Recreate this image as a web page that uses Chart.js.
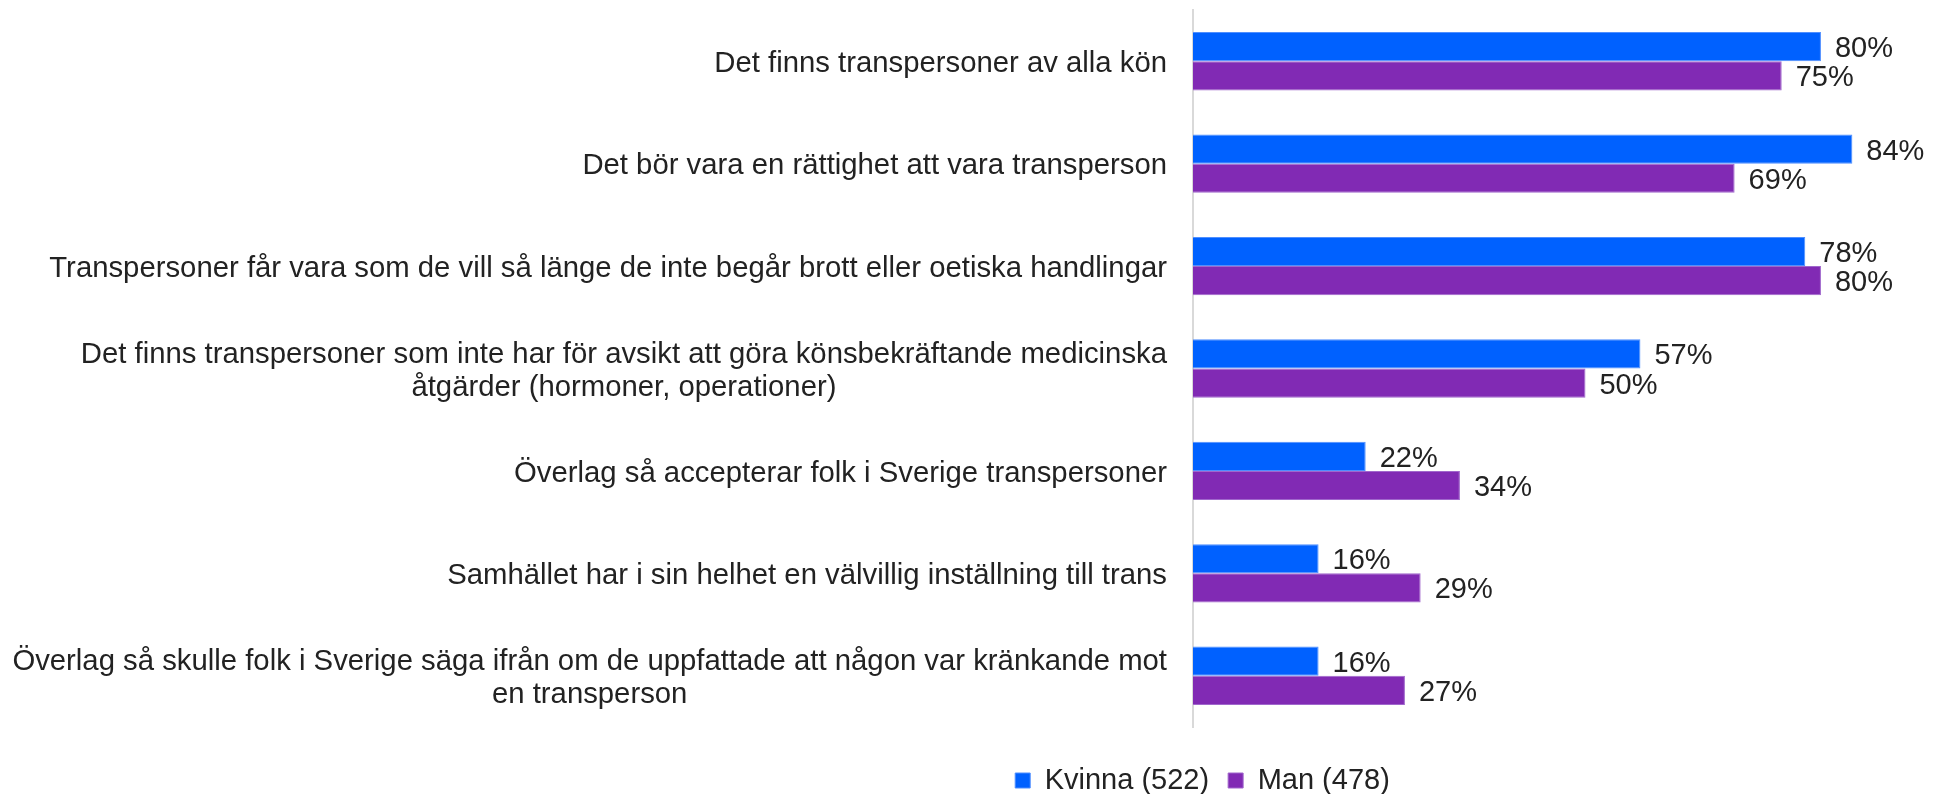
<!DOCTYPE html>
<html>
<head>
<meta charset="utf-8">
<script src="https://cdn.jsdelivr.net/npm/chart.js@4.4.1/dist/chart.umd.min.js"></script>
<style>
  html, body { margin: 0; padding: 0; background: #fff; }
</style>
</head>
<body>
<canvas id="canvas" width="1934" height="794"></canvas>
<script>
  //statements (two-line ones split in arrays)
  var statements = [
    'Det finns transpersoner av alla kön',
    'Det bör vara en rättighet att vara transperson',
    'Transpersoner får vara som de vill så länge de inte begår brott eller oetiska handlingar',
    ['Det finns transpersoner som inte har för avsikt att göra könsbekräftande medicinska', 'åtgärder (hormoner, operationer)'],
    'Överlag så accepterar folk i Sverige transpersoner',
    'Samhället har i sin helhet en välvillig inställning till trans',
    ['Överlag så skulle folk i Sverige säga ifrån om de uppfattade att någon var kränkande mot', 'en transperson']
  ];
  var seriesNames = ['Kvinna (522)', 'Man (478)'];
  var kvinna = [80, 84, 78, 57, 22, 16, 16];
  var man = [75, 69, 80, 50, 34, 29, 27];

  var FONT = '"Liberation Sans", Arial, sans-serif';
  var TEXT = '#222222';

  //left labels: each block centred on itself, right edge near the axis
  var statementLabels = {
    id: 'statementLabels',
    afterDraw: function(chart)
    {
      var ctx = chart.ctx;
      var yScale = chart.scales.y;
      var right = yScale.right - 26;
      var lh = 33;
      ctx.save();
      ctx.font = '29.3px ' + FONT;
      ctx.fillStyle = TEXT;
      ctx.textAlign = 'center';
      ctx.textBaseline = 'middle';
      chart.data.labels.forEach(function(label, i)
      {
        var lines = [].concat(label);
        var widest = 0;
        lines.forEach(function(l) { widest = Math.max(widest, ctx.measureText(l).width); });
        var y = yScale.getPixelForTick(i) + 2.5 - (lines.length - 1) * lh / 2;
        lines.forEach(function(l, j) { ctx.fillText(l, right - widest / 2, y + j * lh); });
      });
      ctx.restore();
    }
  };

  //percent next to every bar
  var valueLabels = {
    id: 'valueLabels',
    afterDatasetsDraw: function(chart)
    {
      var ctx = chart.ctx;
      ctx.save();
      ctx.font = '29px ' + FONT;
      ctx.fillStyle = TEXT;
      ctx.textAlign = 'left';
      ctx.textBaseline = 'middle';
      chart.data.datasets.forEach(function(ds, d)
      {
        chart.getDatasetMeta(d).data.forEach(function(bar, i)
        {
          ctx.fillText(ds.data[i] + '%', bar.x + 14, bar.y + 2.5);
        });
      });
      ctx.restore();
    }
  };

  //move legend a bit left and down
  var legendPlace = {
    id: 'legendPlace',
    afterLayout: function(chart)
    {
      var lg = chart.legend;
      lg.left = 0;
      lg.right = 2405;
      lg.top += 20;
      lg.bottom += 20;
    }
  };

  var ctx = document.getElementById('canvas').getContext('2d');
  window.myBar = new Chart(ctx, {
    type: 'bar',
    data: {
      labels: statements,
      datasets: [
        {
          label: seriesNames[0],
          data: kvinna,
          backgroundColor: '#0061ff',
          borderColor: '#4f8fff',
          borderWidth: 1
        },
        {
          label: seriesNames[1],
          data: man,
          backgroundColor: '#812ab4',
          borderColor: '#a067cc',
          borderWidth: 1
        }
      ]
    },
    options: {
      indexAxis: 'y',
      responsive: false,
      animation: false,
      events: [],
      datasets: {
        bar: { barPercentage: 1, categoryPercentage: 0.57 }
      },
      layout: { padding: { top: 10, bottom: 9, left: 0, right: 0 } },
      scales: {
        x: { display: false, min: 0, max: 94.4 },
        y: {
          grid: { display: false },
          border: { display: true, color: '#d9d9d9', width: 2 },
          ticks: { display: false },
          afterFit: function(scale) { scale.width = 1193; }
        }
      },
      plugins: {
        tooltip: { enabled: false },
        legend: {
          position: 'bottom',
          labels: {
            boxWidth: 15,
            boxHeight: 15,
            padding: 19,
            color: TEXT,
            font: { family: FONT, size: 29 }
          }
        }
      }
    },
    plugins: [statementLabels, valueLabels, legendPlace]
  });
</script>
</body>
</html>
